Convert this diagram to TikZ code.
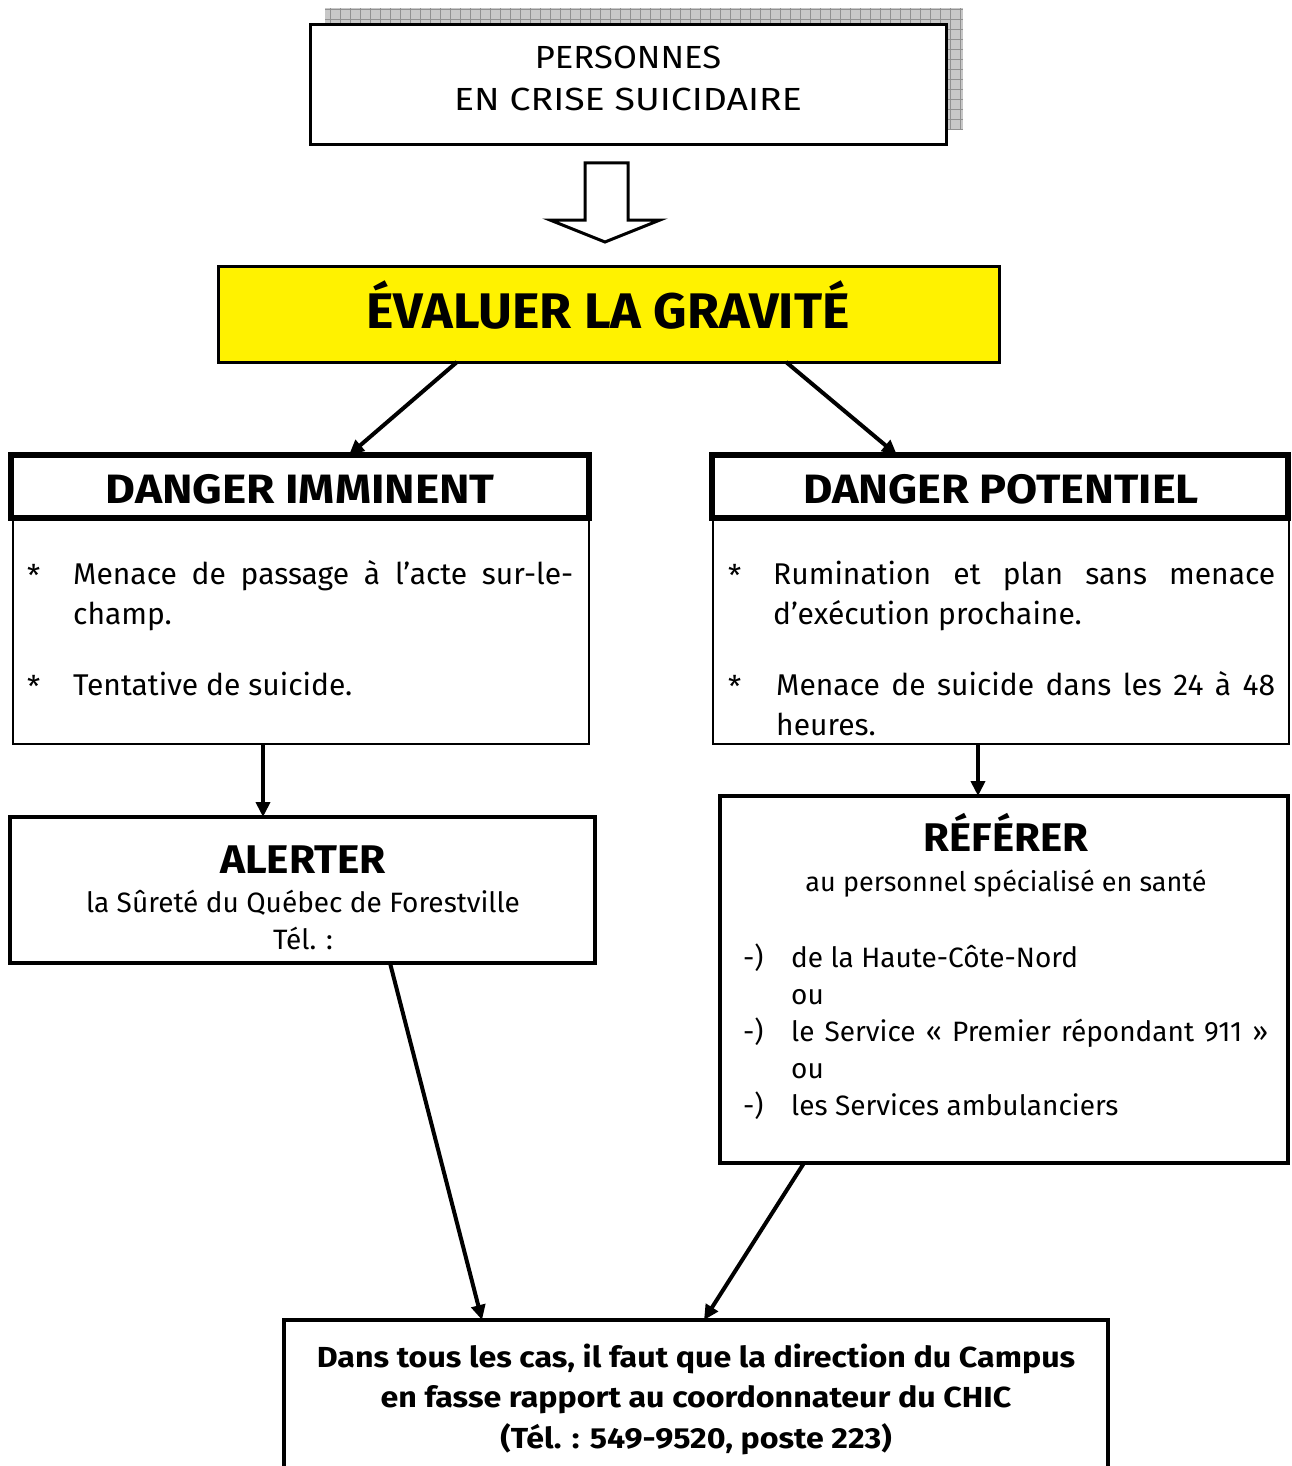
\documentclass[tikz,border=0pt]{standalone}
\usepackage{graphicx}
\usepackage{fontspec}
\setmainfont{Fira Sans}
\usetikzlibrary{arrows.meta,calc}
\definecolor{shadowgray}{RGB}{200,200,200}
\definecolor{gridgray}{RGB}{145,145,145}
\newcommand{\wide}[2]{\scalebox{#1}[1]{#2}}
\tikzset{
  box/.style={draw, line width=#1, inner sep=0pt, outer sep=0pt, anchor=north west, fill=white},
  arr/.style={line width=4pt, -{Triangle[length=15pt,width=14pt]}},
  title/.style={anchor=base, font=\fontsize{#1}{#1}\selectfont\bfseries, inner sep=0pt},
  txt/.style={anchor=base west, font=\fontsize{30}{36}\selectfont, inner sep=0pt},
  ltxt/.style={anchor=base west, font=\fontsize{28}{28}\selectfont, inner sep=0pt},
  ctxt/.style={anchor=base, font=\fontsize{#1}{#1}\selectfont, inner sep=0pt},
}
\begin{document}
\begin{tikzpicture}[x=1pt,y=-1pt]
\useasboundingbox (0,0) rectangle (1291,1466);
% top box with shadow
\fill[shadowgray] (325,8) rectangle (963,130);
\draw[gridgray, line width=1pt, step=10pt] (325,8) grid (963,130);
\node[box=3pt, minimum width=636pt, minimum height=120pt] (top) at (310,25) {};
\node[ctxt=32] (t1) at (628,69) {\wide{1.08}{PERSONNES}};
\node[ctxt=32] (t2) at (628,111) {\wide{1.17}{EN CRISE SUICIDAIRE}};
% hollow arrow
\draw[line width=3pt, fill=white, line join=miter] (585,163) -- (628,163) -- (628,220) -- (660,220) -- (605,242) -- (550,220) -- (585,220) -- cycle;
% evaluate
\node[box=3pt, fill=yellow, minimum width=781pt, minimum height=96pt] (eval) at (218,266) {};
\node[title=50] (evalt) at (608,328) {\wide{1.04}{ÉVALUER LA GRAVITÉ}};
% danger imminent
\node[box=2pt, minimum width=576pt, minimum height=226pt] (dib) at (13,518) {};
\node[box=6pt, minimum width=578pt, minimum height=63pt] (dih) at (11,455) {};
\node[title=41] (diht) at (300,503) {\wide{1.12}{DANGER IMMINENT}};
\node[txt] (s1) at (27,586) {*};
\node[txt] (l1) at (73,584) {\makebox[500pt][s]{Menace de passage à l’acte sur-le-}};
\node[txt] (l2) at (73,624) {champ.};
\node[txt] (s2) at (27,697) {*};
\node[txt] (l3) at (73,695) {Tentative de suicide.};
% danger potentiel
\node[box=2pt, minimum width=576pt, minimum height=226pt] (dpb) at (713,518) {};
\node[box=6pt, minimum width=576pt, minimum height=63pt] (dph) at (712,455) {};
\node[title=41] (dpht) at (1001,503) {\wide{1.1}{DANGER POTENTIEL}};
\node[txt] (s3) at (728,586) {*};
\node[txt] (r1) at (773,584) {\makebox[502pt][s]{Rumination et plan sans menace}};
\node[txt] (r2) at (773,624) {d’exécution prochaine.};
\node[txt] (s4) at (728,697) {*};
\node[txt] (r3) at (776,695) {\makebox[499pt][s]{Menace de suicide dans les 24 à 48}};
\node[txt] (r4) at (776,735) {heures.};
% alerter
\node[box=4pt, minimum width=585pt, minimum height=146pt] (alert) at (10,817) {};
\node[title=40] (alertt) at (303,873) {\wide{1.06}{ALERTER}};
\node[ctxt=28] (alert1) at (303,912) {la Sûreté du Québec de Forestville};
\node[ctxt=28] (alert2) at (303,949) {Tél. :};
% referer
\node[box=4pt, minimum width=568pt, minimum height=367pt] (refer) at (720,796) {};
\node[title=40] (refert) at (1006,851) {\wide{1.05}{RÉFÉRER}};
\node[ctxt=27] (refer1) at (1006,891) {au personnel spécialisé en santé};
\node[ltxt] (d1) at (743,967) {-)};
\node[ltxt] (o1) at (791,967) {de la Haute-Côte-Nord};
\node[ltxt] (o2) at (791,1004) {ou};
\node[ltxt] (d2) at (743,1041) {-)};
\node[ltxt] (o3) at (791,1041) {\makebox[477pt][s]{le Service « Premier répondant 911 »}};
\node[ltxt] (o4) at (791,1078) {ou};
\node[ltxt] (d3) at (743,1115) {-)};
\node[ltxt] (o5) at (791,1115) {les Services ambulanciers};
% bottom
\node[box=4pt, minimum width=824pt, minimum height=160pt] (bot) at (284,1320) {};
\node[title=29] (b1) at (696,1367) {\wide{1.11}{Dans tous les cas, il faut que la direction du Campus}};
\node[title=29] (b2) at (696,1407) {\wide{1.11}{en fasse rapport au coordonnateur du CHIC}};
\node[title=29] (b3) at (696,1448) {\wide{1.11}{(Tél. : 549-9520, poste 223)}};
% connectors
\draw[arr] ([xshift=239pt]eval.south west) -- ([xshift=338pt]dih.north west);
\draw[arr] ([xshift=568pt]eval.south west) -- ([xshift=185pt]dph.north west);
\draw[arr] ([xshift=250pt]dib.south west) -- ([xshift=253pt]alert.north west);
\draw[arr] ([xshift=265pt]dpb.south west) -- ([xshift=258pt]refer.north west);
\draw[arr] ([xshift=380pt]alert.south west) -- ([xshift=198pt]bot.north west);
\draw[arr] ([xshift=84pt]refer.south west) -- ([xshift=420pt]bot.north west);
\end{tikzpicture}
\end{document}
